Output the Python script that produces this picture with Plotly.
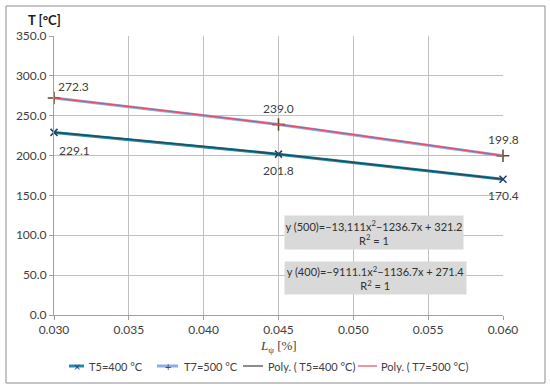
import plotly.graph_objects as go

x_vals = [0.030, 0.045, 0.060]
t5_vals = [229.1, 201.8, 170.4]
t7_vals = [272.3, 239.0, 199.8]
t5_name = "T5=400 °C"
t7_name = "T7=500 °C"
poly5_name = "Poly. ( T5=400 °C)"
poly7_name = "Poly. ( T7=500 °C)"
eq500 = "y (500)=−13,111x<sup>2</sup>−1236.7x + 321.2<br>R<sup>2</sup> = 1"
eq400 = "y (400)=−9111.1x<sup>2</sup>−1136.7x + 271.4<br>R<sup>2</sup> = 1"

FONT = "Lato, 'Open Sans', sans-serif"
W, H = 550, 389
L, R, T, B = 54, 47, 36, 74
pw, ph = W - L - R, H - T - B

C_T5 = "#2a8aa6"
C_T7 = "#8ab0e0"
C_P5 = "#1b4f5e"
C_P7 = "#e0506a"
C_M5 = "#1f3e7a"
C_M7 = "#5a4a2a"


def px(xp):
    return (xp - L) / pw


def py(yp):
    return (H - B - yp) / ph


fig = go.Figure()

fig.add_trace(go.Scatter(
    x=x_vals, y=t5_vals, name=t5_name, mode="lines+markers",
    line=dict(color=C_T5, width=3),
    marker=dict(symbol="x-thin", size=7, line=dict(color=C_M5, width=1.5), color=C_M5),
    cliponaxis=False,
))
fig.add_trace(go.Scatter(
    x=x_vals, y=t7_vals, name=t7_name, mode="lines+markers",
    line=dict(color=C_T7, width=3),
    marker=dict(symbol="cross-thin", size=9, line=dict(color=C_M7, width=1.5), color=C_M7),
    cliponaxis=False,
))
fig.add_trace(go.Scatter(
    x=x_vals, y=t5_vals, name=poly5_name, mode="lines",
    line=dict(color=C_P5, width=1.5, shape="spline"),
))
fig.add_trace(go.Scatter(
    x=x_vals, y=t7_vals, name=poly7_name, mode="lines",
    line=dict(color=C_P7, width=1.5, shape="spline"),
))

# data labels
for i, (xv, v) in enumerate(zip(x_vals, t7_vals)):
    first = i == 0
    fig.add_annotation(x=xv, y=v, text=f"{v:.1f}", showarrow=False,
                       xanchor="left" if first else "center", xshift=2 if first else 0,
                       yshift=11 if first else 16, yanchor="middle",
                       font=dict(family=FONT, size=12, color="#404040"))
for i, (xv, v) in enumerate(zip(x_vals, t5_vals)):
    first = i == 0
    fig.add_annotation(x=xv, y=v, text=f"{v:.1f}", showarrow=False,
                       xanchor="left" if first else "center", xshift=3 if first else 0,
                       yshift=-18 if first else -16, yanchor="middle",
                       font=dict(family=FONT, size=12, color="#404040"))

fig.update_layout(
    width=W, height=H,
    margin=dict(l=L, r=R, t=T, b=B, autoexpand=False),
    paper_bgcolor="white", plot_bgcolor="white",
    font=dict(family=FONT, size=12, color="#404040"),
    showlegend=False,
    xaxis=dict(range=[0.030, 0.060], tickvals=[0.030, 0.035, 0.040, 0.045, 0.050, 0.055, 0.060],
               tickformat=".3f", showgrid=True, gridcolor="#c0c0c0", gridwidth=1, automargin=False,
               showline=True, linecolor="#a0a0a0", ticks="outside", ticklen=4, tickcolor="#a0a0a0",
               zeroline=False, tickfont=dict(size=12, color="#404040")),
    yaxis=dict(range=[0, 350], tickvals=[0, 50, 100, 150, 200, 250, 300, 350],
               tickformat=".1f", showgrid=True, gridcolor="#c0c0c0", gridwidth=1, automargin=False,
               showline=True, linecolor="#a0a0a0", ticks="outside", ticklen=4, tickcolor="#a0a0a0",
               zeroline=False, tickfont=dict(size=12, color="#404040")),
)

# outer chart border
fig.add_shape(type="rect", xref="paper", yref="paper",
              x0=px(6), x1=px(545), y0=py(383), y1=py(6),
              line=dict(color="#8c8c8c", width=1), fillcolor="rgba(0,0,0,0)", layer="below")

fig.add_annotation(xref="paper", yref="paper", x=px(26), y=py(20), xanchor="left", yanchor="middle",
                   text="<b>T [°C]</b>", showarrow=False, font=dict(family=FONT, size=13, color="#202020"))
fig.add_annotation(xref="paper", yref="paper", x=px(278), y=py(346), xanchor="center", yanchor="middle",
                   text="<i>L</i><sub>ψ</sub> [%]", showarrow=False,
                   font=dict(family="'Liberation Serif', serif", size=13, color="#404040"))

fig.add_annotation(xref="paper", yref="paper", x=px(374), y=py(232.5), xanchor="center", yanchor="middle",
                   text=eq500, showarrow=False, bgcolor="#d9d9d9", width=178, height=33, borderpad=0,
                   align="center", font=dict(family=FONT, size=11, color="#303030"))
fig.add_annotation(xref="paper", yref="paper", x=px(375.5), y=py(278), xanchor="center", yanchor="middle",
                   text=eq400, showarrow=False, bgcolor="#d9d9d9", width=181, height=32, borderpad=0,
                   align="center", font=dict(family=FONT, size=11, color="#303030"))

# custom legend (one row, as in the reference)
legend_items = [
    (t5_name, C_T5, 3, "x-thin", C_M5, 69, 84, 87),
    (t7_name, C_T7, 3, "cross-thin", C_M7, 157, 178, 182),
    (poly5_name, "#404040", 1.2, None, None, 243, 263, 266),
    (poly7_name, C_P7, 1.2, None, None, 358, 377, 379),
]
LY = 366
for name, col, wdt, sym, mcol, x0, x1, tx in legend_items:
    fig.add_shape(type="line", xref="paper", yref="paper", x0=px(x0), x1=px(x1), y0=py(LY), y1=py(LY),
                  line=dict(color=col, width=wdt))
    if sym:
        fig.add_annotation(xref="paper", yref="paper", x=px((x0 + x1) / 2), y=py(LY),
                           text="×" if sym == "x-thin" else "+", showarrow=False,
                           font=dict(family=FONT, size=11, color=mcol), xanchor="center", yanchor="middle")
    fig.add_annotation(xref="paper", yref="paper", x=px(tx), y=py(LY), xanchor="left", yanchor="middle",
                       text=name, showarrow=False, font=dict(family=FONT, size=11, color="#404040"))

fig.write_html("out.html", config={"displayModeBar": False},
               post_script="document.body.style.margin='0';document.body.style.padding='0';")
